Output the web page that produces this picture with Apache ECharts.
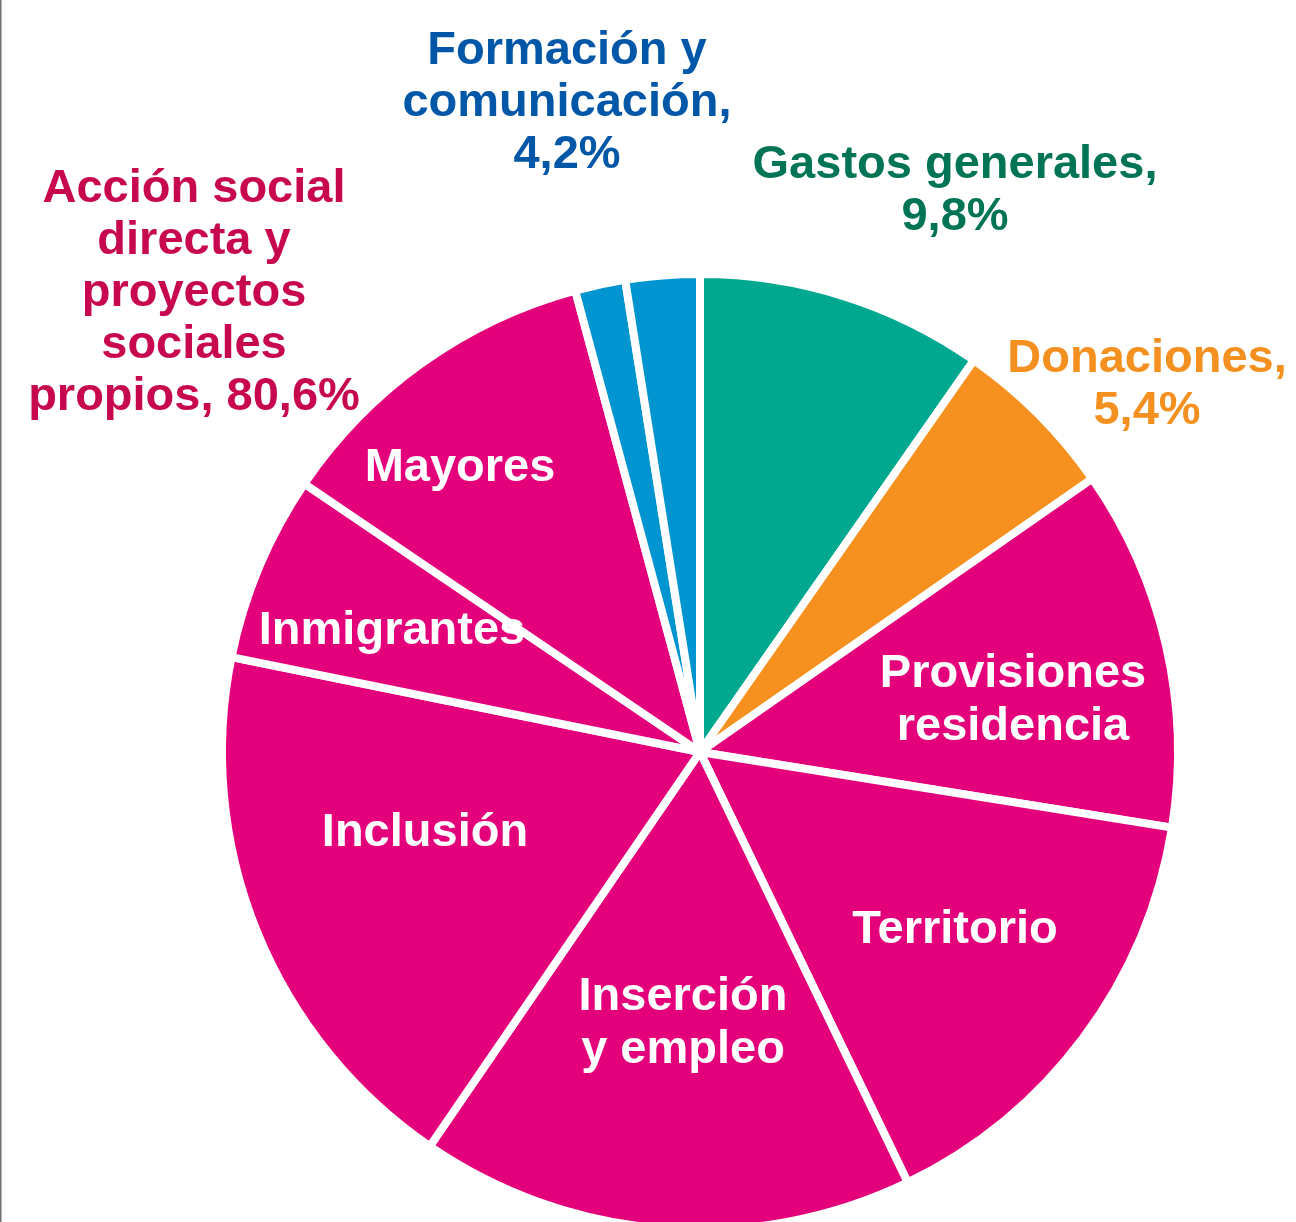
<!DOCTYPE html>
<html>
<head>
<meta charset="utf-8">
<script src="https://cdn.jsdelivr.net/npm/echarts@6/dist/echarts.min.js"></script>
<style>
  html, body { margin: 0; padding: 0; background: #fff; }
  #chart { width: 1296px; height: 1222px; }
</style>
</head>
<body>
<div id="chart"></div>
<script>
// slices, clockwise from 12 o'clock
const sliceNames = ['Gastos generales', 'Donaciones', 'Provisiones\nresidencia', 'Territorio',
  'Inserción\ny empleo', 'Inclusión', 'Inmigrantes', 'Mayores', 'Formación', 'Comunicación']
const sliceValues = [9.7, 5.6, 12.2, 15.3, 16.7, 18.6, 6.3, 11.3, 1.7, 2.5]
const sliceGroup = [0, 1, 2, 2, 2, 2, 2, 2, 3, 3]

// groups shown as outside labels
const groupNames = ['Gastos generales,\n9,8%', 'Donaciones,\n5,4%',
  'Acción social\ndirecta y\nproyectos\nsociales\npropios, 80,6%', 'Formación y\ncomunicación,\n4,2%']
const groupValues = [9.8, 5.4, 80.6, 4.2]

// colours
const groupColors = ['#00A88F', '#F6901E', '#E3007A', '#0094D1']
const groupTextColors = ['#007455', '#F39020', '#C7084F', '#0057A8']

// label anchor points (px), by index
const innerLabelPos = {
  2: [1013, 701], 3: [955, 930], 4: [683, 1024], 5: [425, 833], 6: [392, 631], 7: [460, 468]
}
const groupLabelPos = [[955, 191], [1147, 385], [194, 293], [567, 103]]

const FONT = '"Liberation Sans", Arial, sans-serif'

const chart = echarts.init(document.getElementById('chart'))

const option = {
  animation: false,
  graphic: [
    { type: 'rect', left: 0, top: 0, shape: { width: 1.5, height: 1222 }, style: { fill: '#707070' } }
  ],
  series: [
    {
      type: 'pie',
      center: [700, 752],
      radius: 478,
      startAngle: 90,
      clockwise: true,
      avoidLabelOverlap: false,
      silent: true,
      itemStyle: { borderColor: '#fff', borderWidth: 8 },
      label: {
        show: true,
        position: 'inside',
        color: '#fff',
        fontFamily: FONT,
        fontWeight: 'bold',
        fontSize: 47,
        lineHeight: 53,
        formatter: p => p.name
      },
      labelLine: { show: false },
      labelLayout: p => {
        const pos = innerLabelPos[p.dataIndex]
        if (!pos) return {}
        return { x: pos[0], y: pos[1], align: 'center', verticalAlign: 'middle' }
      },
      data: sliceNames.map((name, i) => ({
        name,
        value: sliceValues[i],
        itemStyle: { color: groupColors[sliceGroup[i]] },
        label: { show: innerLabelPos[i] !== undefined }
      }))
    },
    {
      // invisible ring that only carries the group labels
      type: 'pie',
      center: [700, 752],
      radius: 478,
      startAngle: 90,
      silent: true,
      z: 1,
      avoidLabelOverlap: false,
      itemStyle: { color: 'rgba(0,0,0,0)', borderWidth: 0 },
      emphasis: { disabled: true },
      label: {
        show: true,
        position: 'outside',
        fontFamily: FONT,
        fontWeight: 'bold',
        fontSize: 47,
        lineHeight: 52,
        align: 'center',
        formatter: p => p.name
      },
      labelLine: { show: false },
      labelLayout: p => {
        const pos = groupLabelPos[p.dataIndex]
        return { x: pos[0], y: pos[1], align: 'center', verticalAlign: 'middle' }
      },
      data: groupNames.map((name, i) => ({
        name,
        value: groupValues[i],
        label: { color: groupTextColors[i] }
      }))
    }
  ]
}

chart.setOption(option)
</script>
</body>
</html>
